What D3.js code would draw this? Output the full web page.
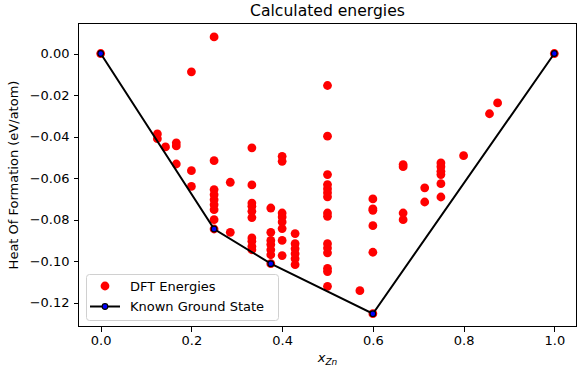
<!DOCTYPE html>
<html lang="en">
<head>
  <meta charset="UTF-8">
  <title>Calculated energies</title>
  <style>
  body { margin: 0; background: #fff; }
  #chart text { font-family: "DejaVu Sans", sans-serif; fill: #000; }
  #chart .axis path, #chart .axis line { stroke: #000; stroke-width: 1px; shape-rendering: crispEdges; }
  #chart .axis text { font-size: 13px; }
  </style>
</head>
<body>
  <div id="chart"></div>
  <script src="https://d3js.org/d3.v7.min.js"></script>
  <script>
// DFT energies: composition x_Zn and heat of formation (eV/atom)
var dftX = [0,
  0.125, 0.125, 0.1429,
  0.1667, 0.1667, 0.1667,
  0.2, 0.2, 0.2,
  0.25, 0.25, 0.25, 0.25, 0.25, 0.25, 0.25, 0.25, 0.25,
  0.2857, 0.2857,
  0.3333, 0.3333, 0.3333, 0.3333, 0.3333, 0.3333, 0.3333, 0.3333, 0.3333, 0.3333,
  0.375, 0.375, 0.375, 0.375, 0.375, 0.375, 0.375,
  0.4, 0.4, 0.4, 0.4, 0.4, 0.4, 0.4, 0.4,
  0.4286, 0.4286, 0.4286, 0.4286, 0.4286, 0.4286,
  0.5, 0.5, 0.5, 0.5, 0.5, 0.5, 0.5, 0.5, 0.5, 0.5, 0.5, 0.5, 0.5, 0.5, 0.5,
  0.5714,
  0.6, 0.6, 0.6, 0.6, 0.6, 0.6,
  0.6667, 0.6667, 0.6667, 0.6667,
  0.7143, 0.7143,
  0.75, 0.75, 0.75, 0.75, 0.75, 0.75,
  0.8, 0.8571, 0.875, 1];
var dftE = [0,
  -0.0387, -0.041, -0.045,
  -0.043, -0.0445, -0.0532,
  -0.0088, -0.0564, -0.064,
  0.008, -0.0516, -0.0655, -0.068, -0.0704, -0.0728, -0.0752, -0.080, -0.0845,
  -0.0620, -0.0861,
  -0.0454, -0.0633, -0.072, -0.0736, -0.076, -0.079, -0.0888, -0.0904, -0.0929, -0.0945,
  -0.0744, -0.0861, -0.090, -0.092, -0.0945, -0.0969, -0.1012,
  -0.0495, -0.0519, -0.0768, -0.0787, -0.0811, -0.0843, -0.090, -0.0973,
  -0.0867, -0.0916, -0.094, -0.0964, -0.0988, -0.1017,
  -0.0154, -0.0398, -0.0583, -0.0631, -0.0651, -0.067, -0.069, -0.0768, -0.0784, -0.0916, -0.0937, -0.096, -0.1035, -0.105, -0.1121,
  -0.1142,
  -0.070, -0.0748, -0.0755, -0.0829, -0.0957, -0.1253,
  -0.0535, -0.0545, -0.0768, -0.080,
  -0.0647, -0.0715,
  -0.0527, -0.0545, -0.0567, -0.0583, -0.0627, -0.0691,
  -0.0492, -0.029, -0.0238, 0];
// Known ground state hull
var groundX = [0, 0.25, 0.375, 0.6, 1];
var groundE = [0, -0.0845, -0.1012, -0.1253, 0];
var xTicks = [0, 0.2, 0.4, 0.6, 0.8, 1.0];
var yTicks = [0, -0.02, -0.04, -0.06, -0.08, -0.10, -0.12];

var w = 587, h = 375;
var margin = {left: 78, right: 10, top: 23, bottom: 48};

var svg = d3.select("#chart").append("svg")
    .attr("width", w)
    .attr("height", h);

var xScale = d3.scaleLinear()
    .domain([-0.05, 1.05])
    .range([margin.left, w - margin.right]);
var yScale = d3.scaleLinear()
    .domain([-0.1317, 0.0147])
    .range([h - margin.bottom, margin.top]);

//Axes
var xAxis = d3.axisBottom(xScale).tickValues(xTicks).tickSize(4.5).tickPadding(4).tickFormat(d3.format(".1f"));
var yAxis = d3.axisLeft(yScale).tickValues(yTicks).tickSize(4.5).tickPadding(4).tickFormat(d3.format(".2f"));

svg.append("g")
    .attr("class", "axis")
    .attr("transform", "translate(0," + (h - margin.bottom) + ")")
    .call(xAxis)
    .call(function(g) { g.select(".domain").remove(); });
svg.append("g")
    .attr("class", "axis")
    .attr("transform", "translate(" + margin.left + ",0)")
    .call(yAxis)
    .call(function(g) { g.select(".domain").remove(); });

//Frame
svg.append("rect")
    .attr("x", margin.left + 0.5)
    .attr("y", margin.top + 0.5)
    .attr("width", w - margin.left - margin.right - 1)
    .attr("height", h - margin.top - margin.bottom - 1)
    .attr("fill", "none")
    .attr("stroke", "#000")
    .attr("stroke-width", 1);

//DFT points
svg.append("g")
    .selectAll("circle")
    .data(dftX)
    .enter()
    .append("circle")
    .attr("cx", function(d) { return xScale(d); })
    .attr("cy", function(d, i) { return yScale(dftE[i]); })
    .attr("r", 4.4)
    .attr("fill", "#ff0000");

//Ground state line
var line = d3.line()
    .x(function(d) { return xScale(d); })
    .y(function(d, i) { return yScale(groundE[i]); });
svg.append("path")
    .datum(groundX)
    .attr("d", line)
    .attr("fill", "none")
    .attr("stroke", "#000")
    .attr("stroke-width", 2);
svg.append("g")
    .selectAll("circle")
    .data(groundX)
    .enter()
    .append("circle")
    .attr("cx", function(d) { return xScale(d); })
    .attr("cy", function(d, i) { return yScale(groundE[i]); })
    .attr("r", 2.8)
    .attr("fill", "#0000ff")
    .attr("stroke", "#000")
    .attr("stroke-width", 1.2);

//Title
svg.append("text")
    .attr("x", (margin.left + w - margin.right) / 2)
    .attr("y", 16)
    .attr("text-anchor", "middle")
    .style("font-size", "15.6px")
    .text("Calculated energies");

//Axis labels
var xl = svg.append("text")
    .attr("x", (margin.left + w - margin.right) / 2)
    .attr("y", 362)
    .attr("text-anchor", "middle")
    .style("font-size", "13px")
    .style("font-style", "italic");
xl.append("tspan").text("x");
xl.append("tspan").attr("dy", 3).style("font-size", "9px").text("Zn");

svg.append("text")
    .attr("transform", "translate(18," + ((margin.top + h - margin.bottom) / 2) + ") rotate(-90)")
    .attr("text-anchor", "middle")
    .style("font-size", "13px")
    .text("Heat Of Formation (eV/atom)");

//Legend
var lg = svg.append("g").attr("transform", "translate(86,274)");
lg.append("rect")
    .attr("x", 0.5).attr("y", 0.5)
    .attr("width", 192).attr("height", 46)
    .attr("rx", 3)
    .attr("fill", "#fff").attr("fill-opacity", 0.8)
    .attr("stroke", "#d0d0d0");
lg.append("circle").attr("cx", 19).attr("cy", 12).attr("r", 4.4).attr("fill", "#ff0000");
lg.append("text").attr("x", 44).attr("y", 16.5).style("font-size", "13px").text("DFT Energies");
lg.append("line").attr("x1", 4).attr("x2", 34).attr("y1", 32.5).attr("y2", 32.5)
    .attr("stroke", "#000").attr("stroke-width", 2);
lg.append("circle").attr("cx", 19).attr("cy", 32.5).attr("r", 2.8)
    .attr("fill", "#0000ff").attr("stroke", "#000").attr("stroke-width", 1.2);
lg.append("text").attr("x", 44).attr("y", 37).style("font-size", "13px").text("Known Ground State");
  </script>
</body>
</html>
